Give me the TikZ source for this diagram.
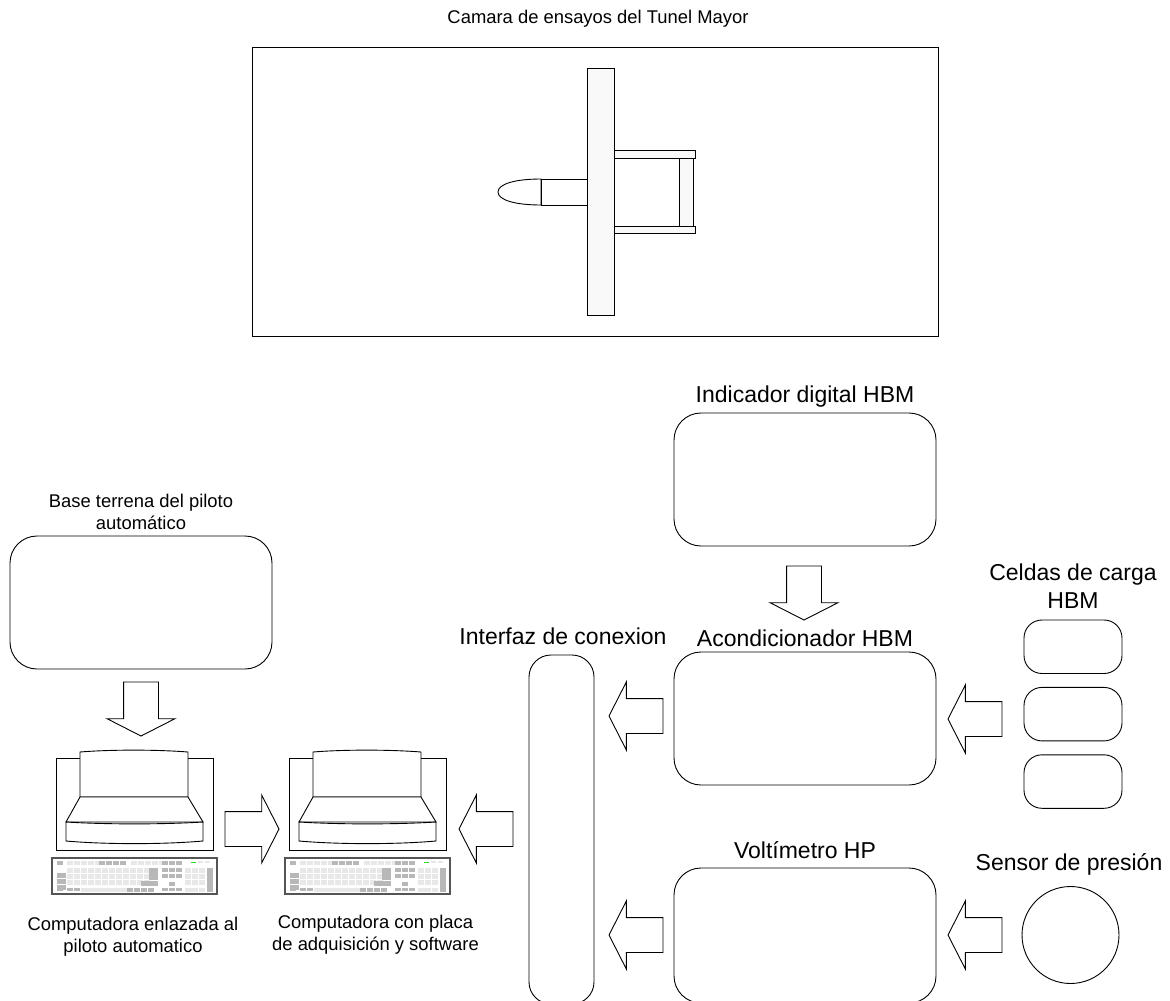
\documentclass[tikz,border=0pt]{standalone}
\usepackage{fontspec}
\setmainfont{Liberation Sans}
\usetikzlibrary{positioning,shapes.arrows}
\definecolor{planeFill}{RGB}{249, 249, 249}
\definecolor{keyLight}{RGB}{232, 232, 232}
\definecolor{keyDark}{RGB}{184, 184, 184}
\definecolor{keyEdge}{RGB}{85, 85, 85}
\definecolor{keyLed}{RGB}{40, 220, 40}

\begin{document}
\begin{tikzpicture}[
  x=1pt,y=-1pt,line width=0.9pt,
  panel/.style={draw,rounded corners=27pt,minimum width=262pt,minimum height=133pt,inner sep=0pt},
  cell/.style={draw,rounded corners=18pt,minimum width=98pt,minimum height=53.5pt,inner sep=0pt},
  blockarrow/.style={draw,single arrow,single arrow head extend=16.5pt,single arrow tip angle=126,
    minimum height=54pt,inner sep=17pt,outer sep=0pt},
  small/.style={font=\fontsize{18.4}{22}\selectfont,align=center,inner sep=0pt},
  big/.style={font=\fontsize{23}{26}\selectfont,align=center,inner sep=0pt},
  key/.style={fill=keyLight,draw=none},
  darkkey/.style={fill=keyDark,draw=none},
  computer/.pic={
    \draw (0,6) rectangle (157,98);
    \draw[fill=white] (24,0) .. controls (55,-2.5) and (100,-2.5) .. (132,0) -- (132,45) -- (24,45) -- cycle;
    \draw[fill=white] (24,45) -- (132,45) -- (147,70) -- (10,70) -- cycle;
    \draw[fill=white] (10,70) .. controls (50,72.5) and (107,72.5) .. (147,70) -- (147,89)
      .. controls (107,92.5) and (50,92.5) .. (10,89) -- cycle;
    % keyboard
    \draw[draw=keyEdge,fill=white,line width=1.1pt] (-4,106) rectangle (161,142);
    \fill[darkkey] (1,109) rectangle ++(5.5,3.5);
    \foreach \kx in {11,18,25,32,39,75,82,89,96,103} \fill[key] (\kx,109) rectangle ++(5.5,3.5);
    \foreach \kx in {43,50,57,64,106,113,120} \fill[darkkey] (\kx,109) rectangle ++(5.5,3.5);
    \fill[keyLed] (135,109.5) rectangle ++(5,1);
    \foreach \kx in {142,149} \fill[key] (\kx,109) rectangle ++(4.5,2);
    \foreach \ky in {116,122,128}
      \foreach \kx in {11,18,25,32,39,46,53,60,67,74,81,88} \fill[key] (\kx,\ky) rectangle ++(5.5,5);
    \foreach \ky in {120.5,127,133} \fill[darkkey] (1,\ky) rectangle ++(9,5);
    \fill[darkkey] (93,116) rectangle ++(9,11.5);
    \fill[darkkey] (85,129) rectangle ++(17,5);
    \foreach \kx in {1,11,18} \fill[darkkey] (\kx,135.5) rectangle ++(5.5,3.5);
    \fill[key] (25,135.5) rectangle ++(46,4);
    \foreach \kx in {71,78,85,92} \fill[darkkey] (\kx,135.5) rectangle ++(5.5,4);
    \foreach \kx in {106,113,120} {
      \fill[darkkey] (\kx,116) rectangle ++(5.5,3.5);
      \fill[darkkey] (\kx,122) rectangle ++(5.5,3.5);
      \fill[darkkey] (\kx,135.5) rectangle ++(5.5,3.5);
    }
    \fill[darkkey] (113,130) rectangle ++(5.5,4);
    \foreach \ky in {116,122,128} \foreach \kx in {129,136,143} \fill[key] (\kx,\ky) rectangle ++(5.5,5);
    \fill[key] (129,135.5) rectangle ++(12.5,4);
    \fill[key] (143,135.5) rectangle ++(5.5,4);
    \fill[darkkey] (150.5,116) rectangle ++(6,23.5);
  }
]
  \useasboundingbox (0,0) rectangle (1170,1001);
  % test chamber
  \node[small] (chamberlabel) at (598,18.5) {Camara de ensayos del Tunel Mayor};
  \draw (252,47) rectangle (938,336);
  \draw (541,179) .. controls (515,179) and (498,184) .. (498,192)
    .. controls (498,200) and (515,205) .. (541,205) -- cycle;
  \draw (541,179) rectangle (587,205);
  \draw[fill=planeFill] (679,158) rectangle (693,226);
  \draw[fill=planeFill] (614,150) rectangle (695,158);
  \draw[fill=planeFill] (614,226) rectangle (695,233);
  \draw[fill=planeFill] (587,68) rectangle (614,315);

  % instruments
  \node[panel] (indicador) at (805,479.5) {};
  \node[panel] (acond) at (805,718.5) {};
  \node[panel,minimum height=135pt] (volt) at (805,935.5) {};
  \node[panel] (base) at (141,602.5) {};
  \node[draw,rounded corners=22pt,minimum width=65pt,minimum height=349pt,inner sep=0pt] (interfaz) at (561.5,829.5) {};
  \node[cell] (celda1) at (1073,646.75) {};
  \node[cell,below=13pt of celda1] (celda2) {};
  \node[cell,below=13pt of celda2] (celda3) {};
  \node[draw,circle,minimum size=97pt,inner sep=0pt] (sensor) at (1070.5,935) {};

  \pic at (56,752) {computer};
  \pic at (289,752) {computer};

  % labels
  \node[big,above=5pt of indicador] (indicadorlabel) {Indicador digital HBM};
  \node[big,above=4pt of acond] (acondlabel) {Acondicionador HBM};
  \node[big,above=8pt of volt] (voltlabel) {Voltímetro HP};
  \node[big] (interfazlabel) at (563,636) {Interfaz de conexion};
  \node[big] (sensorlabel) at (1069,864) {Sensor de presión};
  \node[big] (celdalabel) at (1073,586) {Celdas de carga\\[2pt]HBM};
  \node[small,above=5pt of base] (baselabel) {Base terrena del piloto\\automático};
  \node[small] (comp1label) at (133,937) {Computadora enlazada al\\piloto automatico};
  \node[small] (comp2label) at (375.5,935) {Computadora con placa\\de adquisición y software};

  % arrows
  \node[blockarrow,shape border rotate=270,anchor=tip] (arrowbase) at (141,736) {};
  \node[blockarrow,shape border rotate=270,anchor=tip] (arrowind) at (804,620) {};
  \node[blockarrow,anchor=tip] (arrowcomp) at (279,829) {};
  \node[blockarrow,shape border rotate=180,anchor=tip] (arrowint) at (459,829) {};
  \node[blockarrow,shape border rotate=180,anchor=tip] (arrowacond) at (609,716) {};
  \node[blockarrow,shape border rotate=180,anchor=tip] (arrowvolt) at (609,935) {};
  \node[blockarrow,shape border rotate=180,anchor=tip] (arrowcelda) at (948,719) {};
  \node[blockarrow,shape border rotate=180,anchor=tip] (arrowsensor) at (948,935) {};
\end{tikzpicture}
\end{document}
